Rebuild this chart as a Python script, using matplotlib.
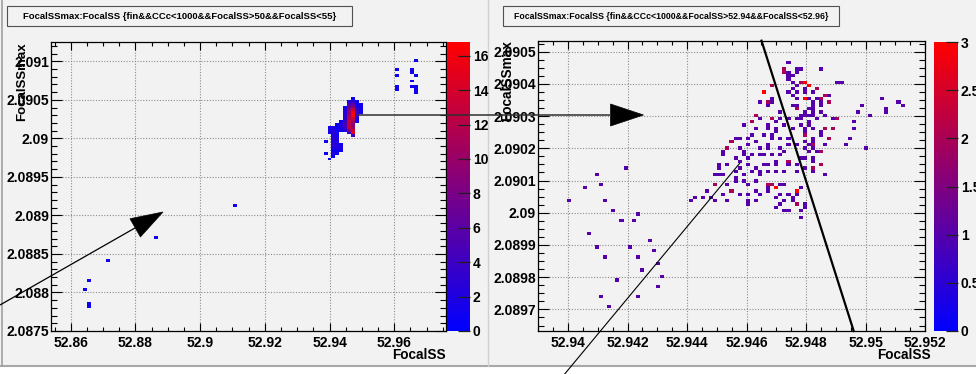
import numpy as np
import matplotlib
matplotlib.use("Agg")
import matplotlib.pyplot as plt
from matplotlib.colors import LinearSegmentedColormap
from matplotlib.ticker import MultipleLocator, FuncFormatter
from matplotlib.patches import Polygon, Rectangle

plt.rcParams['font.family'] = ['Liberation Sans', 'DejaVu Sans']
plt.rcParams['font.weight'] = 'bold'

# ---------------- data: left panel (FocalSS 50..55) ----------------
left_title = "FocalSSmax:FocalSS {fin&&CCc<1000&&FocalSS>50&&FocalSS<55}"
right_title = "FocalSSmax:FocalSS {fin&&CCc<1000&&FocalSS>52.94&&FocalSS<52.96}"
x_title = "FocalSS"
y_title = "FocalSSmax"

left_outliers = [  # (FocalSS, FocalSSmax, entries)
    (52.86544, 2.088165, 1), (52.86420, 2.088052, 1), (52.86544, 2.087853, 1),
    (52.86544, 2.087822, 1), (52.87162, 2.088429, 1), (52.88627, 2.088731, 1),
    (52.91069, 2.089143, 1),
]
left_corner = [
    (52.96652, 2.09100, 1), (52.96030, 2.09090, 1), (52.96540, 2.09091, 1),
    (52.96540, 2.09087, 1), (52.96652, 2.09081, 1), (52.96030, 2.09081, 1),
    (52.96540, 2.09074, 1), (52.96030, 2.09068, 1), (52.96030, 2.09064, 1),
    (52.96540, 2.09068, 1), (52.96652, 2.09068, 1), (52.96652, 2.09064, 1),
    (52.96652, 2.09058, 1),
]
c325, c329, c333, c337 = 52.93860, 52.93984, 52.94107, 52.94231
c341, c345, c349, c353 = 52.94355, 52.94478, 52.94602, 52.94725
c357, c361 = 52.94849, 52.94973
left_cluster_rows = [  # (FocalSSmax, [(FocalSS, entries), ...])
    (2.09052, [(c353, 1)]),
    (2.09048, [(c349, 2), (c353, 3), (c357, 1)]),
    (2.09044, [(c349, 5), (c353, 6), (c357, 1), (c361, 1)]),
    (2.09040, [(c345, 1), (c349, 7), (c353, 9), (c357, 2), (c361, 1)]),
    (2.09037, [(c345, 2), (c349, 9), (c353, 13), (c357, 3), (c361, 1)]),
    (2.09033, [(c345, 2), (c349, 10), (c353, 16), (c357, 4), (c361, 1)]),
    (2.09029, [(c345, 3), (c349, 11), (c353, 17), (c357, 3)]),
    (2.09025, [(c345, 3), (c349, 12), (c353, 13), (c357, 2)]),
    (2.09022, [(c341, 1), (c345, 4), (c349, 13), (c353, 11), (c357, 1)]),
    (2.09018, [(c337, 1), (c341, 2), (c345, 5), (c349, 12), (c353, 9)]),
    (2.09014, [(c329, 1), (c333, 2), (c337, 1), (c341, 2), (c345, 4), (c349, 13), (c353, 10)]),
    (2.09010, [(c329, 2), (c333, 2), (c337, 1), (c341, 1), (c345, 2), (c349, 9), (c353, 14)]),
    (2.09007, [(c329, 1), (c333, 3), (c337, 1), (c349, 3), (c353, 15)]),
    (2.09003, [(c333, 2), (c337, 1), (c353, 4)]),
    (2.08999, [(c333, 3), (c337, 2)]),
    (2.08995, [(c325, 1), (c333, 2), (c337, 2)]),
    (2.08992, [(c333, 3), (c337, 2), (c341, 1)]),
    (2.08988, [(c333, 2), (c337, 2), (c341, 2)]),
    (2.08984, [(c333, 1), (c337, 1), (c341, 1)]),
    (2.08980, [(c325, 1), (c333, 2), (c337, 1)]),
    (2.08977, [(c333, 1)]),
    (2.08973, [(c329, 1)]),
]
left_cbar_ticks = [0, 2, 4, 6, 8, 10, 12, 14, 16]
left_zmax = 16.8

# ---------------- data: right panel (FocalSS 52.94..52.96) ----------------
right_sparse = [
    (52.94195, 2.090143, 1), (52.94091, 2.090115, 1), (52.94115, 2.090088, 1),
    (52.94063, 2.090079, 1), (52.93998, 2.090033, 1), (52.94128, 2.090042, 1),
    (52.94157, 2.090006, 1), (52.94235, 2.089998, 1), (52.94182, 2.089971, 1),
    (52.94222, 2.089971, 1), (52.94077, 2.089935, 1), (52.94275, 2.089916, 1),
    (52.94103, 2.089898, 1), (52.94208, 2.089898, 1), (52.94288, 2.089880, 1),
    (52.94129, 2.089862, 1), (52.94236, 2.089862, 1), (52.94300, 2.089844, 1),
    (52.94248, 2.089826, 1), (52.94314, 2.089800, 1), (52.94170, 2.089790, 1),
    (52.94300, 2.089772, 1), (52.94115, 2.089744, 1), (52.94236, 2.089744, 1),
    (52.94142, 2.089708, 1),
]
right_dense_upper = [
    (52.94737, 2.090466, 1), (52.94725, 2.090445, 1), (52.94732, 2.090438, 1),
    (52.94745, 2.090432, 1), (52.94736, 2.090422, 1), (52.94756, 2.090427, 1),
    (52.94773, 2.090448, 1), (52.94855, 2.090448, 1), (52.94740, 2.090414, 1),
    (52.94684, 2.090394, 1), (52.94790, 2.090410, 3), (52.94773, 2.090396, 1),
    (52.94815, 2.090398, 1), (52.94801, 2.090407, 2), (52.94918, 2.090410, 1),
    (52.94907, 2.090401, 1), (52.94659, 2.090372, 2), (52.94745, 2.090376, 1),
    (52.94762, 2.090370, 1), (52.94751, 2.090383, 1), (52.94790, 2.090381, 1),
    (52.94829, 2.090376, 1), (52.94840, 2.090383, 1), (52.94868, 2.090367, 1),
    (52.94672, 2.090344, 1), (52.94689, 2.090352, 1), (52.94790, 2.090358, 3),
    (52.94773, 2.090350, 1), (52.94812, 2.090350, 1), (52.94835, 2.090355, 1),
    (52.94855, 2.090352, 1), (52.94883, 2.090339, 1), (52.94644, 2.090339, 1),
    (52.94678, 2.090331, 1), (52.94712, 2.090315, 1), (52.94751, 2.090331, 1),
    (52.94773, 2.090324, 1), (52.94807, 2.090324, 1), (52.94823, 2.090334, 1),
    (52.94846, 2.090329, 1), (52.94989, 2.090331, 1), (52.94978, 2.090313, 1),
    (52.95016, 2.090306, 1), (52.94633, 2.090300, 1), (52.94650, 2.090290, 1),
    (52.94689, 2.090288, 1), (52.94712, 2.090295, 1), (52.94740, 2.090288, 1),
    (52.94768, 2.090288, 1), (52.94784, 2.090303, 1), (52.94807, 2.090303, 1),
    (52.94823, 2.090303, 1), (52.94907, 2.090288, 2), (52.94960, 2.090279, 1),
    (52.94594, 2.090277, 1), (52.94622, 2.090282, 1), (52.94678, 2.090272, 1),
    (52.94700, 2.090262, 1), (52.94723, 2.090275, 1), (52.94751, 2.090267, 1),
    (52.94779, 2.090272, 1), (52.94807, 2.090277, 1), (52.94818, 2.090262, 1),
    (52.94868, 2.090265, 1), (52.94891, 2.090267, 2), (52.94958, 2.090262, 1),
    (52.95055, 2.090358, 1), (52.95070, 2.090324, 1), (52.95070, 2.090313, 1),
    (52.95106, 2.090342, 1), (52.95120, 2.090331, 1),
]
right_dense_upper_extra = [
    (52.94723, 2.090443, 1), (52.94734, 2.090434, 1), (52.94762, 2.090431, 1),
    (52.94779, 2.090449, 1), (52.94754, 2.090402, 1), (52.94776, 2.090407, 2),
    (52.94814, 2.090394, 3), (52.94835, 2.090381, 1), (52.94756, 2.090366, 1),
    (52.94801, 2.090371, 1), (52.94846, 2.090356, 1), (52.94846, 2.090341, 1),
    (52.94823, 2.090345, 1), (52.94868, 2.090368, 1), (52.94885, 2.090360, 1),
    (52.94882, 2.090340, 1), (52.94768, 2.090335, 1), (52.94768, 2.090319, 1),
    (52.94795, 2.090314, 1), (52.94795, 2.090303, 1), (52.94818, 2.090324, 1),
    (52.94829, 2.090309, 1), (52.94851, 2.090314, 1), (52.94862, 2.090303, 1),
    (52.94896, 2.090293, 1), (52.94779, 2.090288, 1), (52.94790, 2.090257, 1),
    (52.94790, 2.090248, 1), (52.94790, 2.090238, 1), (52.94812, 2.090283, 1),
    (52.94835, 2.090288, 1), (52.94868, 2.090257, 1), (52.94851, 2.090252, 1),
    (52.94683, 2.090396, 1), (52.94661, 2.090370, 1), (52.94677, 2.090345, 1),
    (52.94691, 2.090339, 1), (52.94627, 2.090308, 1), (52.94683, 2.090293, 1),
    (52.94694, 2.090282, 1), (52.94616, 2.090282, 1), (52.94638, 2.090257, 1),
    (52.94677, 2.090262, 1), (52.94705, 2.090251, 1),
]
right_dense_lower = [
    (52.94549, 2.090225, 1), (52.94577, 2.090229, 1), (52.94622, 2.090246, 1),
    (52.94656, 2.090241, 1), (52.94684, 2.090246, 1), (52.94712, 2.090231, 1),
    (52.94745, 2.090236, 1), (52.94801, 2.090241, 1), (52.94823, 2.090236, 1),
    (52.94857, 2.090241, 1), (52.94885, 2.090236, 2), (52.94949, 2.090231, 1),
    (52.94935, 2.090215, 1), (52.94533, 2.090205, 1), (52.94583, 2.090205, 1),
    (52.94611, 2.090215, 1), (52.94644, 2.090200, 1), (52.94672, 2.090205, 1),
    (52.94712, 2.090203, 1), (52.94740, 2.090207, 1), (52.94762, 2.090215, 1),
    (52.94807, 2.090215, 1), (52.94829, 2.090207, 2), (52.94818, 2.090196, 1),
    (52.94844, 2.090189, 1), (52.95002, 2.090196, 1), (52.94521, 2.090184, 1),
    (52.94561, 2.090174, 1), (52.94594, 2.090179, 1), (52.94622, 2.090184, 1),
    (52.94656, 2.090179, 1), (52.94689, 2.090184, 1), (52.94723, 2.090189, 1),
    (52.94740, 2.090163, 2), (52.94779, 2.090168, 1), (52.94829, 2.090174, 1),
    (52.94807, 2.090189, 1), (52.94510, 2.090143, 1), (52.94533, 2.090150, 1),
    (52.94583, 2.090158, 1), (52.94600, 2.090151, 1), (52.94633, 2.090143, 1),
    (52.94678, 2.090148, 1), (52.94700, 2.090158, 1), (52.94740, 2.090153, 1),
    (52.94762, 2.090148, 1), (52.94801, 2.090137, 1), (52.94823, 2.090143, 1),
    (52.94857, 2.090151, 1), (52.94493, 2.090117, 1), (52.94521, 2.090122, 1),
    (52.94566, 2.090127, 1), (52.94594, 2.090122, 1), (52.94617, 2.090127, 1),
    (52.94650, 2.090117, 1), (52.94672, 2.090127, 1), (52.94700, 2.090124, 1),
    (52.94734, 2.090132, 1), (52.94773, 2.090132, 1), (52.94868, 2.090117, 1),
    (52.94488, 2.090086, 1), (52.94538, 2.090091, 1), (52.94566, 2.090096, 1),
    (52.94600, 2.090083, 1), (52.94633, 2.090096, 1), (52.94672, 2.090091, 1),
    (52.94689, 2.090086, 2), (52.94700, 2.090081, 2), (52.94712, 2.090093, 1),
    (52.94728, 2.090086, 1), (52.94779, 2.090081, 1), (52.94432, 2.090052, 1),
    (52.94471, 2.090070, 1), (52.94516, 2.090060, 1), (52.94544, 2.090070, 1),
    (52.94583, 2.090062, 1), (52.94611, 2.090055, 1), (52.94639, 2.090062, 1),
    (52.94678, 2.090070, 1), (52.94712, 2.090055, 1), (52.94745, 2.090060, 1),
    (52.94762, 2.090070, 3), (52.94773, 2.090055, 1), (52.94756, 2.090049, 1),
    (52.94410, 2.090034, 1), (52.94449, 2.090044, 1), (52.94493, 2.090042, 1),
    (52.94533, 2.090042, 1), (52.94605, 2.090031, 1), (52.94633, 2.090032, 1),
    (52.94717, 2.090029, 1), (52.94734, 2.090039, 1), (52.94756, 2.090041, 1),
    (52.94768, 2.090029, 2), (52.94790, 2.090029, 1), (52.94723, 2.090008, 1),
    (52.94740, 2.090006, 1), (52.94790, 2.090013, 1), (52.94784, 2.090003, 1),
    (52.94777, 2.089989, 1),
]
right_dense_lower_extra = [
    (52.94801, 2.090226, 1), (52.94801, 2.090205, 1), (52.94829, 2.090221, 1),
    (52.94868, 2.090210, 1), (52.94840, 2.090195, 1), (52.94851, 2.090190, 1),
    (52.94801, 2.090174, 1), (52.94829, 2.090164, 1), (52.94857, 2.090153, 1),
    (52.94818, 2.090143, 1), (52.94829, 2.090133, 1), (52.94689, 2.090236, 1),
    (52.94610, 2.090231, 1), (52.94566, 2.090231, 1), (52.94549, 2.090220, 1),
    (52.94633, 2.090220, 1), (52.94666, 2.090210, 1), (52.94532, 2.090205, 1),
    (52.94588, 2.090194, 1), (52.94650, 2.090184, 1), (52.94711, 2.090179, 1),
    (52.94526, 2.090189, 1), (52.94605, 2.090169, 1), (52.94661, 2.090153, 1),
    (52.94694, 2.090148, 1), (52.94515, 2.090148, 1), (52.94582, 2.090138, 1),
    (52.94644, 2.090132, 1), (52.94504, 2.090122, 1), (52.94560, 2.090106, 1),
    (52.94594, 2.090101, 1), (52.94677, 2.090091, 1), (52.94677, 2.090075, 1),
    (52.94694, 2.090081, 1), (52.94493, 2.090091, 1), (52.94554, 2.090070, 1),
    (52.94633, 2.090065, 1), (52.94705, 2.090049, 1), (52.94476, 2.090049, 1),
    (52.94605, 2.090034, 1), (52.94700, 2.090018, 1),
]
right_cbar_ticks = [0, 0.5, 1, 1.5, 2, 2.5, 3]
right_zmax = 3.0

# histogram ranges and binning (axis ranges of the ROOT histograms)
left_xrange, left_yrange = (52.8539, 52.9760), (2.0875, 2.09125)
right_xrange, right_yrange = (52.93899, 52.95200), (2.089633, 2.090533)
left_bins = (100, 100)
right_bins = (95, 88)

# ---------------- build arrays ----------------
lc = list(left_outliers) + list(left_corner)
for yv, cells in left_cluster_rows:
    for xv, nv in cells:
        lc.append((xv, yv, nv))
lx, ly, ln = (np.array(v) for v in zip(*lc))
rc = (right_sparse + right_dense_upper + right_dense_upper_extra
      + right_dense_lower + right_dense_lower_extra)
rx, ry, rn = (np.array(v) for v in zip(*rc))

# ---------------- figure ----------------
W, H = 976, 374
BG = '#f2f2f2'
fig = plt.figure(figsize=(W / 100, H / 100), dpi=100)
fig.patch.set_facecolor(BG)

def px_axes(x0, y0, x1, y1, **kw):
    return fig.add_axes([x0 / W, 1 - y1 / H, (x1 - x0) / W, (y1 - y0) / H], **kw)

# background decorations
bg = px_axes(0, 0, W, H, zorder=-10)
bg.set_xlim(0, W); bg.set_ylim(H, 0); bg.axis('off')
bg.add_patch(Rectangle((0, 366), W, 10, facecolor='white', edgecolor='none'))
bg.plot([0, W], [365.5, 365.5], color='#a8a8a8', lw=1.5)
bg.plot([2, 2], [0, 365.5], color='#a0a0a0', lw=1.2)
bg.plot([487.5, 487.5], [0, 365.5], color='#d0d0d0', lw=1.0)

cmap = LinearSegmentedColormap.from_list('br', [(0, 0, 1), (1, 0, 0)])
fmt = FuncFormatter(lambda v, p: f"{v:.6g}")


def style(ax, xmaj, xmin, ymaj, ymin):
    ax.set_facecolor(BG)
    ax.xaxis.set_major_locator(MultipleLocator(xmaj))
    ax.xaxis.set_minor_locator(MultipleLocator(xmin))
    ax.yaxis.set_major_locator(MultipleLocator(ymaj))
    ax.yaxis.set_minor_locator(MultipleLocator(ymin))
    ax.xaxis.set_major_formatter(fmt)
    ax.yaxis.set_major_formatter(fmt)
    ax.tick_params(which='both', direction='in', top=True, right=True,
                   labelsize=10, color='black', width=0.8)
    ax.tick_params(axis='x', which='major', length=6, pad=3.5)
    ax.tick_params(axis='x', which='minor', length=3)
    ax.tick_params(axis='y', which='major', length=8, pad=1.5)
    ax.tick_params(axis='y', which='minor', length=4)
    ax.grid(which='major', color='#8c8c8c', linestyle=(0, (1, 1.5)), linewidth=0.8)
    ax.set_axisbelow(True)
    for s in ax.spines.values():
        s.set_linewidth(0.9)


def cbar(im, cax, ticks):
    cb = fig.colorbar(im, cax=cax)
    cb.set_ticks(ticks)
    cb.ax.yaxis.set_major_formatter(fmt)
    cb.outline.set_visible(False)
    cax.tick_params(direction='in', length=9, width=0.9, labelsize=10, pad=2, color='#202020')
    cax.minorticks_off()
    return cb

# left panel
axL = px_axes(51, 42, 446, 331)
xe = np.linspace(*left_xrange, left_bins[0] + 1)
ye = np.linspace(*left_yrange, left_bins[1] + 1)
hL = axL.hist2d(lx, ly, bins=[xe, ye], weights=ln, cmap=cmap, vmin=0, vmax=left_zmax, cmin=0.5)
axL.set_xlim(*left_xrange); axL.set_ylim(*left_yrange)
style(axL, 0.02, 0.005, 0.0005, 0.0001)
caxL = px_axes(447, 42, 470, 331)
cbar(hL[3], caxL, left_cbar_ticks)

# right panel
axR = px_axes(538, 41, 925, 331)
xe = np.linspace(*right_xrange, right_bins[0] + 1)
ye = np.linspace(*right_yrange, right_bins[1] + 1)
hR = axR.hist2d(rx, ry, bins=[xe, ye], weights=rn, cmap=cmap, vmin=0, vmax=right_zmax, cmin=0.5)
axR.set_xlim(*right_xrange); axR.set_ylim(*right_yrange)
style(axR, 0.002, 0.0005, 0.0001, 0.000025)
caxR = px_axes(934, 42, 958, 331)
cbar(hR[3], caxR, right_cbar_ticks)

# axis titles (ROOT style: at the end of the axes)
fig.text(446 / W, 1 - 355 / H, x_title, ha='right', va='center', fontsize=9.8)
fig.text(931 / W, 1 - 355 / H, x_title, ha='right', va='center', fontsize=9.8)
fig.text(22 / W, 1 - 42 / H, y_title, ha='center', va='top', rotation=90, fontsize=9.5)
fig.text(507 / W, 1 - 40 / H, y_title, ha='center', va='top', rotation=90, fontsize=9.8)

# overlay: title boxes and drawn arrows / lines
ov = px_axes(0, 0, W, H, zorder=10)
ov.set_xlim(0, W); ov.set_ylim(H, 0); ov.axis('off'); ov.patch.set_alpha(0)
for (x0, x1, t, fs) in [(7, 352, left_title, 6.8), (503, 839, right_title, 6.3)]:
    ov.add_patch(Rectangle((x0, 6), x1 - x0, 20, facecolor=BG, edgecolor='#505050', lw=0.8))
    ov.text((x0 + x1) / 2, 16, t, ha='center', va='center', fontsize=fs)


def arrow(tail, tip, hl, hw, color='black', lw=1.0):
    t = np.array(tail, float); p = np.array(tip, float)
    d = (p - t) / np.linalg.norm(p - t)
    n = np.array([-d[1], d[0]])
    base = p - hl * d
    ov.plot([t[0], base[0]], [t[1], base[1]], color=color, lw=lw, solid_capstyle='butt')
    ov.add_patch(Polygon([p, base + hw * n, base - hw * n], closed=True,
                         facecolor='black', edgecolor='black', lw=0.5))

arrow((0, 305), (163, 212), 32, 10.5, lw=0.9)
arrow((357, 115), (643.5, 115), 33, 11, color='#303030', lw=1.1)
ov.plot([761.5, 853.7], [40.7, 331], color='black', lw=1.6)
ov.plot([739.7, 564.7], [163.3, 374], color='black', lw=0.8)

fig.savefig('out.png', dpi=100, facecolor=BG)
